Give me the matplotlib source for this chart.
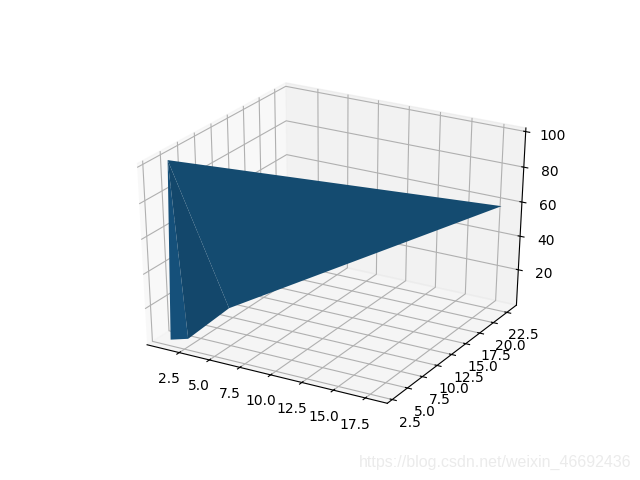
import matplotlib
matplotlib.use("Agg")
import matplotlib.pyplot as plt
import matplotlib.tri as mtri
from mpl_toolkits.mplot3d import Axes3D

x_values = [0.2, 1.65, 2.96, 6.05, 19.2]
y_values = [5.3, 2.0, 2.3, 3.0, 20.5]
z_values = [97, 4, 6, 27.5, 66]
triangles = [[0, 1, 2], [0, 2, 3], [0, 3, 4]]
face_colors = ["#15507a", "#13476b", "#144b70"]
x_limits = (-0.2, 19.2)
y_limits = (1.7, 24.3)
z_limits = (-1.5, 102)
x_ticks = [2.5, 5.0, 7.5, 10.0, 12.5, 15.0, 17.5]
y_ticks = [2.5, 5.0, 7.5, 10.0, 12.5, 15.0, 17.5, 20.0, 22.5]
z_ticks = [20, 40, 60, 80, 100]

fig = plt.figure(figsize=(6.4, 4.8), dpi=100)
ax = fig.add_subplot(projection="3d")
ax.apply_aspect = lambda position=None: None
ax.set_box_aspect((1, 1, 1), zoom=0.94)
tri = mtri.Triangulation(x_values, y_values, triangles)
surf = ax.plot_trisurf(tri, z_values, color="#144b70", shade=False, linewidth=0)
surf.set_facecolor(face_colors)
ax.set_xlim(*x_limits)
ax.set_ylim(*y_limits)
ax.set_zlim(*z_limits)
ax.set_xticks(x_ticks)
ax.set_yticks(y_ticks)
ax.set_zticks(z_ticks)
fig.text(0.987, 0.037, "https://blog.csdn.net/weixin_46692436", ha="right", va="center",
         color="#ebebeb", fontsize=11.5, family="Liberation Sans")
fig.savefig("out.png", dpi=100)
